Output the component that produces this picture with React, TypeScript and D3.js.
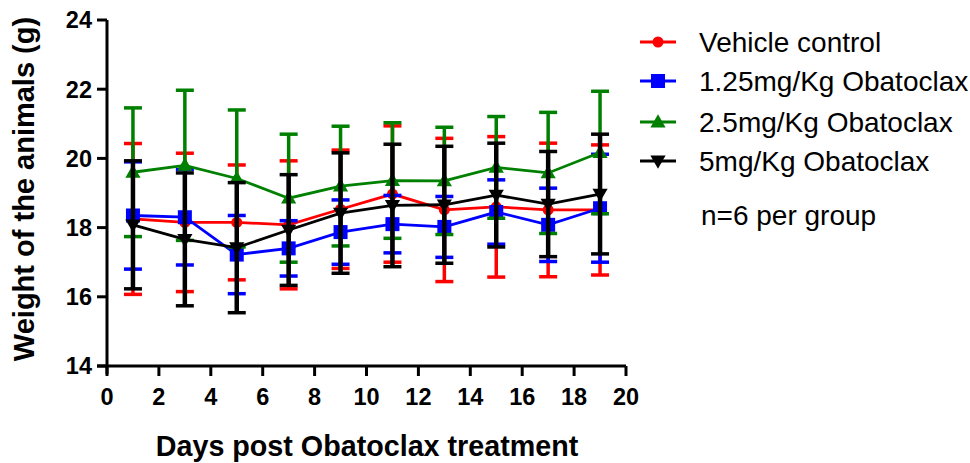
import React from "react";
import * as d3 from "d3";

const days = [1, 3, 5, 7, 9, 11, 13, 15, 17, 19];
const seriesNames = ["Vehicle control", "1.25mg/Kg Obatoclax", "2.5mg/Kg Obatoclax", "5mg/Kg Obatoclax"];
const seriesColors = ["#ff0000", "#0000ff", "#008000", "#000000"];
const seriesShapes = ["circle", "square", "triUp", "triDown"];

const vehicleMean = [18.25, 18.15, 18.15, 18.08, 18.53, 18.97, 18.51, 18.6, 18.51, 18.51];
const vehicleSd = [2.18, 2.0, 1.66, 1.85, 1.71, 1.97, 2.07, 2.03, 1.93, 1.88];
const low125Mean = [18.35, 18.3, 17.22, 17.4, 17.87, 18.1, 18.02, 18.45, 18.08, 18.56];
const low125Sd = [1.55, 1.38, 1.13, 0.8, 0.93, 0.83, 0.88, 0.93, 1.06, 1.56];
const mid25Mean = [19.6, 19.8, 19.42, 18.85, 19.2, 19.36, 19.35, 19.74, 19.58, 20.17];
const mid25Sd = [1.86, 2.17, 1.98, 1.85, 1.73, 1.67, 1.55, 1.47, 1.75, 1.77];
const high5Mean = [18.08, 17.66, 17.42, 17.93, 18.42, 18.64, 18.66, 18.94, 18.68, 18.97];
const high5Sd = [1.85, 1.92, 1.88, 1.6, 1.74, 1.77, 1.69, 1.5, 1.52, 1.73];

const xTicks = [0, 2, 4, 6, 8, 10, 12, 14, 16, 18, 20];
const yTicks = [14, 16, 18, 20, 22, 24];

const xTitle = "Days post Obatoclax treatment";
const yTitle = "Weight of the animals (g)";
const noteText = "n=6 per group";

const means = [vehicleMean, low125Mean, mid25Mean, high5Mean];
const sds = [vehicleSd, low125Sd, mid25Sd, high5Sd];

const W = 970;
const H = 463;
const left = 107;
const right = 626;
const top = 20;
const bottom = 366;

const FONT = "'Liberation Sans', Arial, Helvetica, sans-serif";

function Marker({ shape, x, y, color }: { shape: string; x: number; y: number; color: string }) {
  if (shape === "circle") return <circle cx={x} cy={y} r={5.5} fill={color} />;
  if (shape === "square") return <rect x={x - 7} y={y - 7} width={14} height={14} fill={color} />;
  const sym = d3.symbol().type(d3.symbolTriangle).size(100)();
  const rot = shape === "triDown" ? 180 : 0;
  return <path d={sym || ""} transform={`translate(${x},${y + (shape === "triDown" ? -1 : 1)}) rotate(${rot})`} fill={color} />;
}

export default function App() {
  const x = d3.scaleLinear().domain([0, 20]).range([left, right]);
  const y = d3.scaleLinear().domain([14, 24]).range([bottom, top]);
  const line = d3
    .line<number>()
    .x((_, i) => x(days[i]))
    .y((d) => y(d));

  const capW = 9;

  return (
    <svg
      width={W}
      height={H}
      style={{ position: "absolute", left: 0, top: 0, background: "#fff" }}
      fontFamily={FONT}
    >
      <rect x={0} y={0} width={W} height={H} fill="#fff" />
      {/* series */}
      {means.map((m, s) => {
        const c = seriesColors[s];
        const bw = s === 3 ? 4.5 : 3.5;
        return (
          <g key={s}>
            {m.map((v, i) => {
              const cx = x(days[i]);
              const yHi = y(v + sds[s][i]);
              const yLo = y(v - sds[s][i]);
              return (
                <g key={i}>
                  <line x1={cx} x2={cx} y1={yHi} y2={yLo} stroke={c} strokeWidth={bw} />
                  <line x1={cx - capW} x2={cx + capW} y1={yHi} y2={yHi} stroke={c} strokeWidth={3.5} />
                  <line x1={cx - capW} x2={cx + capW} y1={yLo} y2={yLo} stroke={c} strokeWidth={3.5} />
                </g>
              );
            })}
            <path d={line(m) || ""} fill="none" stroke={c} strokeWidth={2.8} />
            {m.map((v, i) => (
              <Marker key={i} shape={seriesShapes[s]} x={x(days[i])} y={y(v)} color={c} />
            ))}
          </g>
        );
      })}

      {/* axes */}
      <line x1={left} x2={left} y1={top} y2={bottom + 8} stroke="#000" strokeWidth={3} />
      <line x1={left - 10} x2={right} y1={bottom} y2={bottom} stroke="#000" strokeWidth={3} />
      {yTicks.map((t) => (
        <g key={t}>
          <line x1={left - 10} x2={left} y1={y(t)} y2={y(t)} stroke="#000" strokeWidth={3} />
          <text
            x={left - 15}
            y={y(t)}
            dy="0.36em"
            textAnchor="end"
            fontSize={23.5}
            fontWeight="bold"
          >
            {t}
          </text>
        </g>
      ))}
      {xTicks.map((t) => (
        <g key={t}>
          <line x1={x(t)} x2={x(t)} y1={bottom} y2={bottom + 10} stroke="#000" strokeWidth={3} />
          <text x={x(t)} y={bottom + 31} dy="0.36em" textAnchor="middle" fontSize={23.5} fontWeight="bold">
            {t}
          </text>
        </g>
      ))}
      <text x={367} y={446} dy="0.36em" textAnchor="middle" fontSize={28.7} fontWeight="bold">
        {xTitle}
      </text>
      <text
        transform={`translate(24,189) rotate(-90)`}
        dy="0.36em"
        textAnchor="middle"
        fontSize={29}
        fontWeight="bold"
      >
        {yTitle}
      </text>

      {/* legend */}
      {seriesNames.map((n, i) => {
        const ly = [42, 81, 122, 161][i];
        return (
          <g key={n}>
            <line x1={640} x2={676} y1={ly} y2={ly} stroke={seriesColors[i]} strokeWidth={3} />
            <Marker shape={seriesShapes[i]} x={658} y={ly} color={seriesColors[i]} />
            <text x={699} y={ly} dy="0.36em" fontSize={28}>
              {n}
            </text>
          </g>
        );
      })}
      <text x={701} y={215} dy="0.36em" fontSize={28}>
        {noteText}
      </text>
    </svg>
  );
}
